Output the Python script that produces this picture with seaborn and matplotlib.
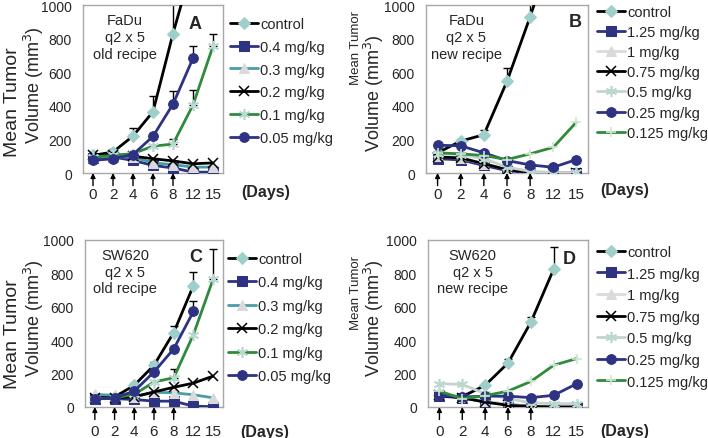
import numpy as np
import matplotlib
matplotlib.use('Agg')
import matplotlib.pyplot as plt
import seaborn as sns

sns.set_style('white')
plt.rcParams['font.family'] = ['Liberation Sans', 'DejaVu Sans']

nan = np.nan
days = ['0', '2', '4', '6', '8', '12', '15']
dose_days = ['0', '2', '4', '6', '8']

# A - FaDu, old recipe
a_labels = ['control', '0.4 mg/kg', '0.3 mg/kg', '0.2 mg/kg', '0.1 mg/kg', '0.05 mg/kg']
a_control = [105, 125, 220, 365, 830, 1250, nan]
a_04 = [90, 95, 75, 45, 30, 5, 5]
a_03 = [95, 95, 95, 60, 50, 35, 35]
a_02 = [110, 110, 100, 85, 72, 55, 60]
a_01 = [95, 105, 115, 160, 172, 405, 755]
a_005 = [75, 85, 110, 218, 410, 683, nan]
a_err_control = [0, 15, 45, 95, 300, 0, 0]
a_err_01 = [0, 0, 0, 0, 30, 90, 75]
a_err_005 = [0, 0, 0, 0, 80, 75, 0]

# B - FaDu, new recipe
b_labels = ['control', '1.25 mg/kg', '1 mg/kg', '0.75 mg/kg', '0.5 mg/kg', '0.25 mg/kg', '0.125 mg/kg']
b_control = [120, 190, 228, 546, 930, 1350, nan]
b_125 = [85, 78, 45, 14, 2, 0, 0]
b_1 = [100, 88, 55, 22, 5, 0, 0]
b_075 = [95, 90, 55, 20, 3, 0, 0]
b_05 = [115, 110, 85, 35, 10, 3, 3]
b_025 = [165, 162, 120, 74, 48, 34, 80]
b_0125 = [120, 114, 104, 80, 114, 153, 303]
b_err_control = [0, 15, 30, 80, 80, 0, 0]

# C - SW620, old recipe
c_labels = a_labels
c_control = [60, 60, 130, 250, 446, 727, nan]
c_04 = [50, 50, 45, 35, 35, 5, 2]
c_03 = [75, 70, 60, 88, 85, 73, 55]
c_02 = [55, 55, 62, 90, 118, 143, 185]
c_01 = [50, 55, 75, 150, 175, 434, 766]
c_005 = [48, 55, 95, 210, 348, 572, nan]
c_err_control = [0, 0, 15, 20, 40, 80, 0]
c_err_01 = [0, 0, 0, 0, 50, 0, 180]
c_err_005 = [0, 0, 0, 0, 0, 65, 0]

# D - SW620, new recipe
d_labels = b_labels
d_control = [70, 62, 130, 263, 508, 826, nan]
d_125 = [65, 55, 30, 15, 5, 0, 0]
d_1 = [75, 60, 35, 15, 5, 0, 0]
d_075 = [70, 55, 30, 10, 4, 0, 0]
d_05 = [140, 135, 80, 50, 25, 20, 20]
d_025 = [70, 60, 65, 65, 56, 70, 139]
d_0125 = [95, 50, 68, 95, 153, 250, 290]
d_err_control = [0, 0, 10, 25, 30, 130, 0]

navy = '#2d3282'
green = '#2f8a3c'
styles = {
    'control': dict(color='black', marker='D', markersize=6, markerfacecolor='#9fcfca', markeredgecolor='#9fcfca'),
    'square': dict(color=navy, marker='s', markersize=6.5, markerfacecolor=navy, markeredgecolor=navy),
    'tri_teal': dict(color='#4a9ea3', marker='^', markersize=7, markerfacecolor='#dadada', markeredgecolor='#dadada'),
    'tri_gray': dict(color='#dadada', marker='^', markersize=7, markerfacecolor='#dadada', markeredgecolor='#dadada'),
    'x': dict(color='black', marker='x', markersize=7, markeredgecolor='black', markeredgewidth=1.1),
    'ast_green': dict(color=green, marker=(6, 2, 0), markersize=8, markeredgecolor='#b8d8d0', markeredgewidth=1.2),
    'ast_gray': dict(color='#c6d2d0', marker=(6, 2, 0), markersize=8, markeredgecolor='#b8d8d0', markeredgewidth=1.2),
    'circle': dict(color=navy, marker='o', markersize=7, markerfacecolor=navy, markeredgecolor=navy),
    'plus': dict(color=green, marker='+', markersize=7, markeredgecolor='#cfe5cf', markeredgewidth=1.2),
}

W, H = 708, 439
fig = plt.figure(figsize=(W / 100, H / 100), dpi=100)


def px_rect(l, t, r, b):
    return [l / W, 1 - b / H, (r - l) / W, (b - t) / H]


def panel(rect, labels, series, kinds, errs, title, letter, title_x, letter_xy,
          leg_xy, leg_space, days_xy, xpad):
    ax = fig.add_axes(px_rect(*rect))
    for lab, vals, kind in zip(labels, series, kinds):
        sns.lineplot(x=days, y=vals, ax=ax, label=lab, linewidth=2, zorder=3, **styles[kind])
    for vals, err in errs:
        idx = [i for i, e in enumerate(err) if e > 0]
        ax.errorbar([days[i] for i in idx], [vals[i] for i in idx],
                    yerr=[[0] * len(idx), [err[i] for i in idx]],
                    fmt='none', ecolor='black', elinewidth=1, capsize=3, capthick=1, zorder=2)
    ax.set_xlim(-0.5, 6.5)
    ax.set_ylim(0, 1000)
    ax.set_yticks(range(0, 1001, 200))
    ax.set_xlabel('')
    ax.set_ylabel('')
    ax.tick_params(axis='y', length=0, pad=8, labelsize=10)
    ax.tick_params(axis='x', length=0, pad=xpad, labelsize=11)
    for s in ax.spines.values():
        s.set_color('#a8a8a8')
        s.set_linewidth(1)
    for d in dose_days:
        xd = ax.xaxis.convert_units(d)
        ax.annotate('', xy=(xd, 0.0), xycoords=('data', 'axes fraction'),
                    xytext=(xd, -0.075), textcoords=('data', 'axes fraction'),
                    arrowprops=dict(arrowstyle='-|>', color='black', lw=1, mutation_scale=7,
                                    shrinkA=0, shrinkB=0),
                    annotation_clip=False)
    ax.text(title_x, 0.81, title, transform=ax.transAxes, ha='center', va='center',
            fontsize=10.5, linespacing=1.25)
    ax.text(letter_xy[0], letter_xy[1], letter, transform=ax.transAxes, ha='center', va='center',
            fontsize=13, fontweight='bold')
    ax.legend(loc='upper left', bbox_to_anchor=(leg_xy[0] / W, 1 - leg_xy[1] / H),
              bbox_transform=fig.transFigure, frameon=False, borderpad=0, borderaxespad=0,
              handlelength=1.9, handletextpad=0.15, labelspacing=leg_space, fontsize=10.5)
    fig.text(days_xy[0] / W, 1 - days_xy[1] / H, '(Days)', ha='center', va='center',
             fontsize=11.5, fontweight='bold')
    return ax


panel((83, 6, 223, 174), a_labels, [a_control, a_04, a_03, a_02, a_01, a_005],
      ['control', 'square', 'tri_teal', 'x', 'ast_green', 'circle'],
      [(a_control, a_err_control), (a_01, a_err_01), (a_005, a_err_005)],
      'FaDu\nq2 x 5\nold recipe', 'A', 0.3, (0.8, 0.89), (230, 18), 0.6, (266, 193), 10)

panel((426, 6, 588, 174), b_labels, [b_control, b_125, b_1, b_075, b_05, b_025, b_0125],
      ['control', 'square', 'tri_gray', 'x', 'ast_gray', 'circle', 'plus'],
      [(b_control, b_err_control)],
      'FaDu\nq2 x 5\nnew recipe', 'B', 0.25, (0.92, 0.9), (597, 6), 0.42, (625, 191), 10)

panel((85, 241, 223, 408), c_labels, [c_control, c_04, c_03, c_02, c_01, c_005],
      ['control', 'square', 'tri_teal', 'x', 'ast_green', 'circle'],
      [(c_control, c_err_control), (c_01, c_err_01), (c_005, c_err_005)],
      'SW620\nq2 x 5\nold recipe', 'C', 0.29, (0.8, 0.9), (228, 253), 0.65, (265, 433), 12)

panel((428, 241, 588, 408), d_labels, [d_control, d_125, d_1, d_075, d_05, d_025, d_0125],
      ['control', 'square', 'tri_gray', 'x', 'ast_gray', 'circle', 'plus'],
      [(d_control, d_err_control)],
      'SW620\nq2 x 5\nnew recipe', 'D', 0.28, (0.88, 0.89), (597, 246), 0.52, (625, 432), 12)

# y axis labels
for x, y, s, fs in [(13, 102, 'Mean Tumor', 14), (34, 85, 'Volume (mm$^3$)', 13),
                    (356, 48, 'Mean Tumor', 9.5), (374, 93, 'Volume (mm$^3$)', 13),
                    (13, 334, 'Mean Tumor', 14), (34, 318, 'Volume (mm$^3$)', 13),
                    (356, 293, 'Mean Tumor', 9.5), (374, 318, 'Volume (mm$^3$)', 13)]:
    fig.text(x / W, 1 - y / H, s, rotation=90, ha='center', va='center', fontsize=fs)

fig.savefig('out.png', dpi=100)
